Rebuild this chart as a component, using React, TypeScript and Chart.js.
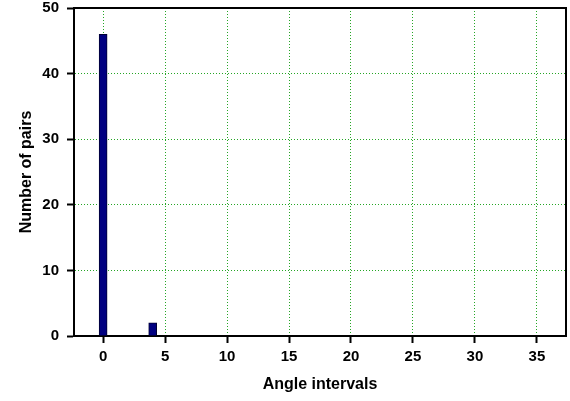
import React, { useEffect, useRef } from "react";
import { Chart, registerables } from "chart.js";

Chart.register(...registerables);

const angleIntervals = [0, 4];
const pairCounts = [46, 2];
const xTickValues = [0, 5, 10, 15, 20, 25, 30, 35];
const yTickValues = [0, 10, 20, 30, 40, 50];

const frame = {
  id: "frame",
  afterDatasetsDraw(chart: any) {
    const { ctx, chartArea: a } = chart;
    ctx.save();
    ctx.strokeStyle = "#000";
    ctx.lineWidth = 2;
    ctx.beginPath();
    ctx.moveTo(a.left, a.top);
    ctx.lineTo(a.right, a.top);
    ctx.lineTo(a.right, a.bottom);
    ctx.stroke();
    ctx.restore();
  },
};

export default function App() {
  const ref = useRef<HTMLCanvasElement>(null);
  useEffect(() => {
    document.body.style.margin = "0";
    const family = "'Liberation Sans', Arial, sans-serif";
    const tickFont = { family, size: 15, weight: "bold" as const };
    const titleFont = { family, size: 16, weight: "bold" as const };
    const gridColor = "rgba(0,150,0,0.85)";
    const chart = new Chart(ref.current!, {
      type: "bar",
      data: {
        datasets: [
          {
            data: angleIntervals.map((x, i) => ({ x, y: pairCounts[i] })),
            backgroundColor: "#000080",
            borderColor: "#000033",
            borderWidth: 1,
            barThickness: 8,
          },
        ],
      },
      options: {
        responsive: false,
        animation: false,
        layout: { padding: { top: 8, right: 4, left: 0, bottom: 0 } },
        plugins: { legend: { display: false }, tooltip: { enabled: false } },
        scales: {
          x: {
            type: "linear",
            offset: false,
            min: -2.35,
            max: 37.35,
            afterBuildTicks: (s: any) => {
              s.ticks = xTickValues.map((v) => ({ value: v }));
            },
            afterFit: (s: any) => {
              s.height = 65;
              s.paddingLeft = 0;
              s.paddingRight = 0;
            },
            grid: {
              offset: false,
              color: gridColor,
              lineWidth: 1,
              tickColor: "#000",
              tickLength: 7,
              tickWidth: 2,
            },
            border: { display: true, color: "#000", width: 2, dash: [1, 2] },
            ticks: { color: "#000", font: tickFont, padding: 5, maxRotation: 0 },
            title: {
              display: true,
              text: "Angle intervals",
              color: "#000",
              font: titleFont,
              padding: { top: 0, bottom: 7 },
            },
          },
          y: {
            min: 0,
            max: 50,
            afterBuildTicks: (s: any) => {
              s.ticks = yTickValues.map((v) => ({ value: v }));
            },
            afterFit: (s: any) => {
              s.width = 74;
              s.paddingTop = 0;
              s.paddingBottom = 0;
            },
            grid: {
              color: gridColor,
              lineWidth: 1,
              tickColor: "#000",
              tickLength: 7,
              tickWidth: 2,
            },
            border: { display: true, color: "#000", width: 2, dash: [1, 2] },
            ticks: { color: "#000", font: tickFont, padding: 8 },
            title: {
              display: true,
              text: "Number of pairs",
              color: "#000",
              font: titleFont,
              padding: { top: 17, bottom: 0 },
            },
          },
        },
      },
      plugins: [frame],
    } as any);
    return () => chart.destroy();
  }, []);
  return (
    <div style={{ width: 570, height: 401 }}>
      <canvas ref={ref} width={570} height={401} style={{ display: "block" }} />
    </div>
  );
}
